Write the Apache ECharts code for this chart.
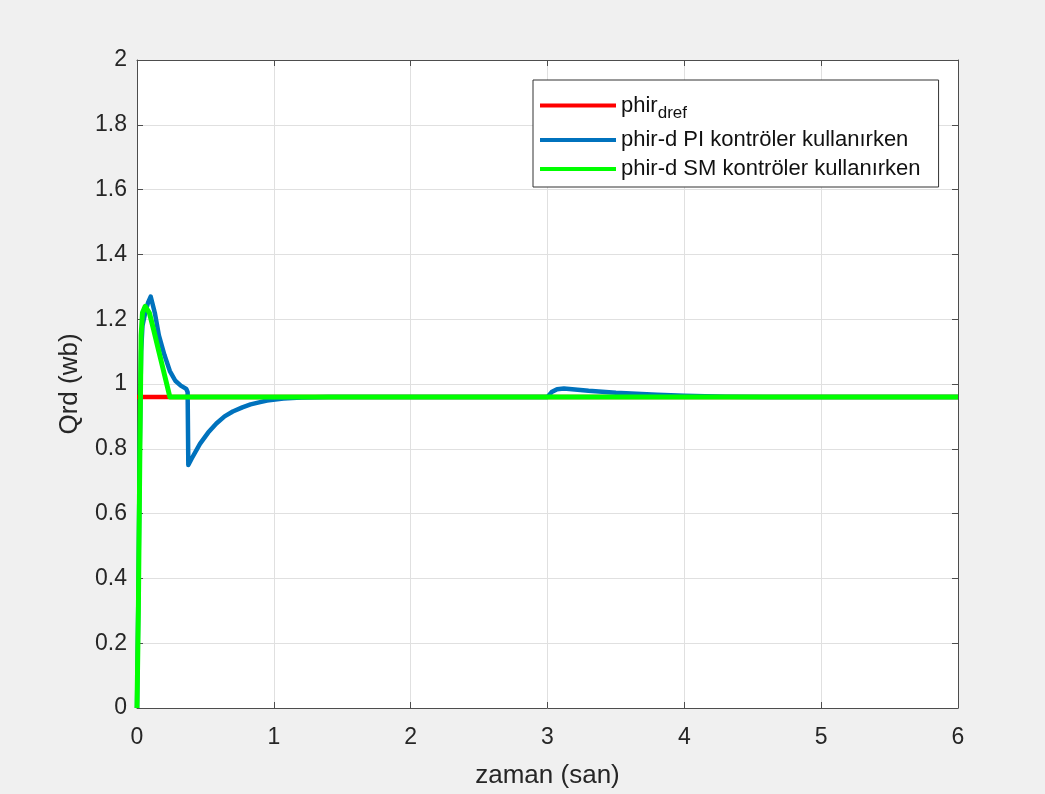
<!DOCTYPE html>
<html>
<head>
<meta charset="utf-8">
<script src="https://cdn.jsdelivr.net/npm/echarts@6/dist/echarts.min.js"></script>
<style>
  html, body { margin: 0; padding: 0; background: #f0f0f0; }
  #chart { width: 1045px; height: 794px; }
</style>
</head>
<body>
<div id="chart"></div>
<script>
// Rotor flux (d-axis) response: reference vs. PI and sliding-mode controllers
const seriesNames = ['phir_dref', 'phir-d PI kontröler kullanırken', 'phir-d SM kontröler kullanırken'];
const xTicks = [0, 1, 2, 3, 4, 5, 6];
const yTicks = [0, 0.2, 0.4, 0.6, 0.8, 1, 1.2, 1.4, 1.6, 1.8, 2];

// reference flux
const refTime = [0, 6];
const refFlux = [0.96, 0.96];

// PI controller
const piTime = [0, 0.01, 0.02, 0.03, 0.04, 0.06, 0.08, 0.1, 0.11, 0.13, 0.16, 0.2, 0.24, 0.28, 0.32, 0.36, 0.37,
  0.375, 0.4, 0.46, 0.52, 0.58, 0.64, 0.7, 0.77, 0.83, 0.9, 0.95, 1.07, 1.2, 1.4, 3.0,
  3.03, 3.07, 3.12, 3.2, 3.3, 3.4, 3.5, 3.65, 3.8, 4.0, 4.3, 4.6, 6];
const piFlux = [0, 0.35, 0.8, 1.1, 1.18, 1.22, 1.25, 1.27, 1.27, 1.22, 1.15, 1.09, 1.04, 1.01, 0.995, 0.985, 0.975,
  0.75, 0.77, 0.815, 0.85, 0.878, 0.9, 0.915, 0.928, 0.937, 0.944, 0.949, 0.955, 0.958, 0.96, 0.96,
  0.975, 0.984, 0.986, 0.983, 0.979, 0.976, 0.973, 0.97, 0.967, 0.964, 0.961, 0.96, 0.96];

// sliding-mode controller
const smTime = [0, 0.01, 0.02, 0.03, 0.04, 0.06, 0.09, 0.12, 0.16, 0.2, 0.24, 6];
const smFlux = [0, 0.3, 0.75, 1.15, 1.22, 1.24, 1.22, 1.17, 1.1, 1.03, 0.96, 0.96];

const pairs = (t, v) => t.map((x, i) => [x, v[i]]);

const FONT = '"Liberation Sans", Arial, Helvetica, sans-serif';
const TXT = '#262626';
const AX = '#4d4d4d';

const chart = echarts.init(document.getElementById('chart'), null, { renderer: 'canvas' });

const baseX = { type: 'value', min: 0, max: 6, interval: 1 };
const baseY = { type: 'value', min: 0, max: 2, interval: 0.2 };
const frameLine = { show: true, onZero: false, lineStyle: { color: AX, width: 1 } };
const inTick = { show: true, inside: true, length: 6, lineStyle: { color: AX, width: 1 } };

chart.setOption({
  animation: false,
  backgroundColor: '#f0f0f0',
  textStyle: { fontFamily: FONT },
  grid: {
    left: 137, right: 87, top: 60, bottom: 86,
    show: true, backgroundColor: '#ffffff', borderWidth: 0
  },
  legend: {
    orient: 'vertical',
    left: 533, top: 80,
    padding: [9, 18, 7, 7],
    itemGap: 7,
    itemWidth: 76, itemHeight: 4,
    icon: 'rect',
    backgroundColor: '#ffffff',
    borderColor: '#333333', borderWidth: 1, borderRadius: 0,
    data: seriesNames,
    formatter: name => name === seriesNames[0] ? '{a|phir}{s|dref}' : '{a|' + name + '}',
    textStyle: {
      fontFamily: FONT, fontSize: 22, color: '#111111',
      rich: {
        a: { fontFamily: FONT, fontSize: 22, color: '#111111', lineHeight: 23 },
        s: { fontFamily: FONT, fontSize: 17, color: '#111111', padding: [16, 0, 0, 0], lineHeight: 32 }
      }
    }
  },
  xAxis: [
    Object.assign({}, baseX, {
      position: 'bottom',
      name: 'zaman (san)', nameLocation: 'middle', nameGap: 55,
      nameTextStyle: { fontFamily: FONT, fontSize: 26, color: TXT },
      axisLine: frameLine,
      axisTick: inTick,
      axisLabel: { fontFamily: FONT, fontSize: 23, color: TXT, margin: 18,
        formatter: v => xTicks.includes(v) ? String(v) : '' },
      splitLine: { show: true, lineStyle: { color: '#e0e0e0', width: 1 } }
    }),
    Object.assign({}, baseX, {
      position: 'top',
      axisLine: frameLine,
      axisTick: inTick,
      axisLabel: { show: false },
      splitLine: { show: false }
    })
  ],
  yAxis: [
    Object.assign({}, baseY, {
      position: 'left',
      name: 'Qrd (wb)', nameLocation: 'middle', nameGap: 54, nameRotate: 90,
      nameTextStyle: { fontFamily: FONT, fontSize: 26, color: TXT },
      axisLine: frameLine,
      axisTick: inTick,
      axisLabel: { fontFamily: FONT, fontSize: 23, color: TXT, margin: 10,
        formatter: v => { const r = Math.round(v * 10) / 10; return yTicks.includes(r) ? String(r) : ''; } },
      splitLine: { show: true, lineStyle: { color: '#e0e0e0', width: 1 } }
    }),
    Object.assign({}, baseY, {
      position: 'right',
      axisLine: frameLine,
      axisTick: inTick,
      axisLabel: { show: false },
      splitLine: { show: false }
    })
  ],
  series: [
    {
      name: seriesNames[0], type: 'line', showSymbol: false, symbol: 'none',
      data: pairs(refTime, refFlux),
      itemStyle: { color: '#ff0000' },
      lineStyle: { color: '#ff0000', width: 4.5 }
    },
    {
      name: seriesNames[1], type: 'line', showSymbol: false, symbol: 'none',
      data: pairs(piTime, piFlux),
      itemStyle: { color: '#0072bd' },
      lineStyle: { color: '#0072bd', width: 4.5, join: 'round' }
    },
    {
      name: seriesNames[2], type: 'line', showSymbol: false, symbol: 'none',
      data: pairs(smTime, smFlux),
      itemStyle: { color: '#00ff00' },
      lineStyle: { color: '#00ff00', width: 5, join: 'round' }
    }
  ]
});
</script>
</body>
</html>
